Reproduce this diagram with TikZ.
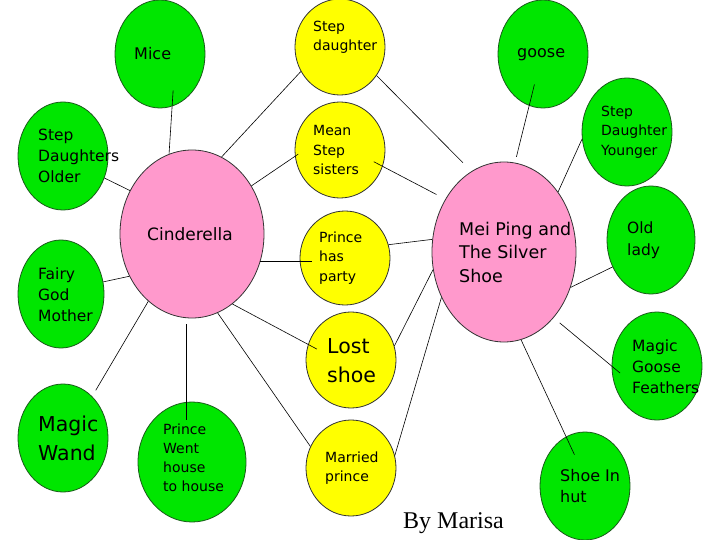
\documentclass[tikz,border=0pt]{standalone}
\usepackage{fontspec}
\setmainfont{DejaVu Sans}
\newfontfamily\byfont{Liberation Serif}
\usetikzlibrary{shapes.geometric}
\definecolor{Leaf}{HTML}{00E600}
\definecolor{LeafEdge}{HTML}{1A5A1A}
\definecolor{Sun}{HTML}{FFFF00}
\definecolor{Rose}{HTML}{FF99CC}
\tikzset{
    greenblob/.style={ellipse, fill=Leaf, draw=LeafEdge, inner sep=0pt, minimum width=90pt, minimum height=108pt, line width=0.8pt},
    yellowblob/.style={ellipse, fill=Sun, draw=black!80, inner sep=0pt, minimum width=90pt, minimum height=96pt, line width=0.8pt},
    pinkblob/.style={ellipse, fill=Rose, draw=black!80, inner sep=0pt, line width=0.8pt},
    txt/.style={anchor=west, align=left, inner sep=0pt},
    link/.style={draw=black, line width=0.6pt},
}

\begin{document}
\begin{tikzpicture}[x=1pt, y=-1pt]
    \useasboundingbox (0,0) rectangle (720,540);
    % Bolle
    \node[greenblob] (mice) at (160,54) {};
    \node[yellowblob] (stepd) at (340,47) {};
    \node[greenblob] (goose) at (543,54) {};
    \node[greenblob] (older) at (63,156) {};
    \node[yellowblob] (mean) at (340,150) {};
    \node[greenblob] (younger) at (627,132) {};
    \node[pinkblob, minimum width=144pt, minimum height=168pt] (cind) at (192,234) {};
    \node[yellowblob, minimum height=94pt] (party) at (345,258) {};
    \node[pinkblob, minimum width=144pt, minimum height=180pt] (meiping) at (504,252) {};
    \node[greenblob, minimum width=88pt] (oldlady) at (651,240) {};
    \node[greenblob, minimum width=86pt] (fairy) at (61,294) {};
    \node[yellowblob] (lost) at (351,360) {};
    \node[greenblob] (feathers) at (657,366) {};
    \node[greenblob] (wand) at (63,438) {};
    \node[greenblob, minimum width=108pt, minimum height=120pt] (went) at (192,462) {};
    \node[yellowblob] (married) at (351,468) {};
    \node[greenblob] (hut) at (585,486) {};

    % Collegamenti Cinderella
    \draw[link, shorten <=-16pt] (mice.-77) -- (cind.106);
    \draw[link] (stepd.212) -- (cind.69);
    \draw[link, shorten <=-4pt] (mean.188) -- (cind.39);
    \draw[link] (older.-28) -- (cind.145);
    \draw[link, shorten >=-12pt] (cind.-22) -- (cind.-22 -| party.west);
    \draw[link] (fairy.16) -- (cind.214);
    \draw[link, shorten <=7pt] (wand.55) -- (cind.237);
    \draw[link, shorten <=6pt, shorten >=-18pt] (cind.-94) -- (cind.-94 |- went.north);
    \draw[link] (cind.-72) -- (married.152);
    \draw[link, shorten >=-10pt] (cind.-60) -- (lost.160);

    % Collegamenti Mei Ping
    \draw[link, shorten >=12pt] (stepd.-38) -- (meiping.112);
    \draw[link, shorten <=-10pt, shorten >=10pt] (mean.-21) -- (meiping.138);
    \draw[link, shorten <=-22pt, shorten >=6pt] (goose.-105) -- (meiping.83);
    \draw[link] (younger.189) -- (meiping.48);
    \draw[link] (party.17) -- (meiping.170);
    \draw[link] (oldlady.215) -- (meiping.-28);
    \draw[link] (lost.18) -- (meiping.194);
    \draw[link] (married.16) -- (meiping.216);
    \draw[link, shorten <=8pt, shorten >=-11pt] (meiping.-53) -- (feathers.180);
    \draw[link, shorten >=-20pt] (meiping.-79) -- (hut.111);

    % Testi
    \node[txt, font=\fontsize{16}{20}\selectfont] (tmice) at (134,54) {Mice};
    \node[txt, font=\fontsize{14}{19}\selectfont] (tstepd) at (313,37) {Step\\daughter};
    \node[txt, font=\fontsize{16}{20}\selectfont] (tgoose) at (517,55) {goose};
    \node[txt, font=\fontsize{15.5}{21}\selectfont] (tolder) at (38,156) {Step\\Daughters\\Older};
    \node[txt, font=\fontsize{14}{19.5}\selectfont] (tmean) at (313,150) {Mean\\Step\\sisters};
    \node[txt, font=\fontsize{14}{19.5}\selectfont] (tyounger) at (601,132) {Step\\Daughter\\Younger};
    \node[txt, font=\fontsize{17}{21}\selectfont] (tcind) at (147,234) {Cinderella};
    \node[txt, font=\fontsize{14}{19.5}\selectfont] (tparty) at (319,258) {Prince\\has\\party};
    \node[txt, font=\fontsize{17.5}{23.5}\selectfont] (tmei) at (459,252) {Mei Ping and\\The Silver\\Shoe};
    \node[txt, font=\fontsize{15.5}{22}\selectfont] (told) at (627,240) {Old\\lady};
    \node[txt, font=\fontsize{15.5}{21}\selectfont] (tfairy) at (38,295) {Fairy\\God\\Mother};
    \node[txt, font=\fontsize{20.5}{29}\selectfont] (tlost) at (327,361) {Lost\\shoe};
    \node[txt, font=\fontsize{15.5}{21}\selectfont] (tfeathers) at (632,367) {Magic\\Goose\\Feathers};
    \node[txt, font=\fontsize{20.5}{29}\selectfont] (twand) at (38,438) {Magic\\Wand};
    \node[txt, font=\fontsize{14}{19}\selectfont] (twent) at (163,458) {Prince\\Went\\house\\to house};
    \node[txt, font=\fontsize{14}{19}\selectfont] (tmarried) at (325,468) {Married\\prince};
    \node[txt, font=\fontsize{16}{21}\selectfont] (thut) at (560,486) {Shoe In\\hut};
    \node[txt, font=\byfont\fontsize{24}{28}\selectfont] (author) at (403,523) {By Marisa};
\end{tikzpicture}
\end{document}
